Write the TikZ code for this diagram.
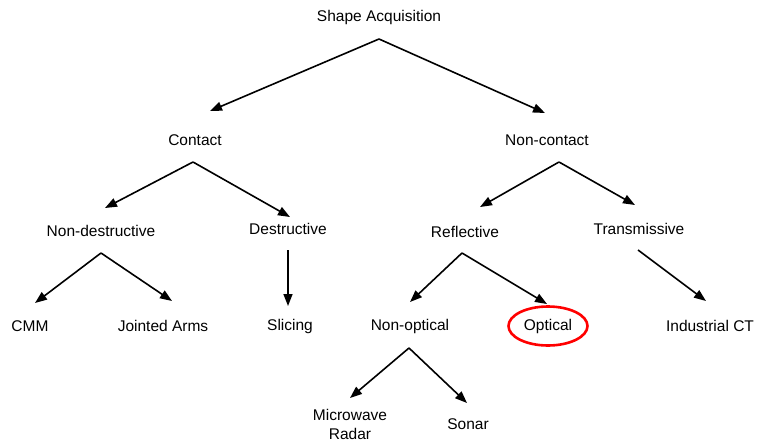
\documentclass[tikz,border=0pt]{standalone}
\usepackage{fontspec}
\setmainfont{Liberation Sans}
\usetikzlibrary{arrows.meta}
\begin{document}
\begin{tikzpicture}[x=1pt,y=-1pt,
  lbl/.style={inner sep=0pt,font=\fontsize{15.5}{19}\selectfont,align=center},
  edge/.style={line width=1.6pt,-{Triangle[length=12pt,width=9pt]}}]
\useasboundingbox (0,0) rectangle (758,442);

% labels
\node[lbl] (root) at (379,17) {Shape Acquisition};
\node[lbl] (contact) at (195,140) {Contact};
\node[lbl] (noncontact) at (547,140) {Non-contact};
\node[lbl] (nondes) at (101,231) {Non-destructive};
\node[lbl] (des) at (288,229) {Destructive};
\node[lbl] (refl) at (465,232) {Reflective};
\node[lbl] (trans) at (639,229) {Transmissive};
\node[lbl] (cmm) at (30,326) {CMM};
\node[lbl] (jarms) at (163,326) {Jointed Arms};
\node[lbl] (slicing) at (290,326) {Slicing};
\node[lbl] (nonopt) at (410,326) {Non-optical};
\node[lbl] (opt) at (548,326) {Optical};
\node[lbl] (ict) at (710,326) {Industrial CT};
\node[lbl] (radar) at (350,424) {Microwave\\Radar};
\node[lbl] (sonar) at (468,424) {Sonar};

% highlight ring around Optical
\draw[red, line width=2.6pt] (opt) ellipse (39.5 and 19.5);

% fork points under each parent
\coordinate (rootF) at (379,39);
\coordinate (contactF) at (193,162);
\coordinate (noncontactF) at (559,162);
\coordinate (nondesF) at (101,253);
\coordinate (desF) at (288,250);
\coordinate (reflF) at (462,253);
\coordinate (transF) at (638,250);
\coordinate (nonoptF) at (409,348);

% arrow tips above each child
\coordinate (contactT) at (210,111);
\coordinate (noncontactT) at (545,113);
\coordinate (nondesT) at (105,208);
\coordinate (desT) at (290,217);
\coordinate (reflT) at (480,207);
\coordinate (transT) at (635,205);
\coordinate (cmmT) at (35,303);
\coordinate (jarmsT) at (172,301);
\coordinate (slicingT) at (288,306);
\coordinate (nonoptT) at (410,302);
\coordinate (optT) at (547,304);
\coordinate (ictT) at (706,301);
\coordinate (radarT) at (350,398);
\coordinate (sonarT) at (467,403);

\draw[edge] (rootF) -- (contactT);
\draw[edge] (rootF) -- (noncontactT);
\draw[edge] (contactF) -- (nondesT);
\draw[edge] (contactF) -- (desT);
\draw[edge] (noncontactF) -- (reflT);
\draw[edge] (noncontactF) -- (transT);
\draw[edge] (nondesF) -- (cmmT);
\draw[edge] (nondesF) -- (jarmsT);
\draw[edge] (desF) -- (slicingT);
\draw[edge] (reflF) -- (nonoptT);
\draw[edge] (reflF) -- (optT);
\draw[edge] (transF) -- (ictT);
\draw[edge] (nonoptF) -- (radarT);
\draw[edge] (nonoptF) -- (sonarT);
\end{tikzpicture}
\end{document}
